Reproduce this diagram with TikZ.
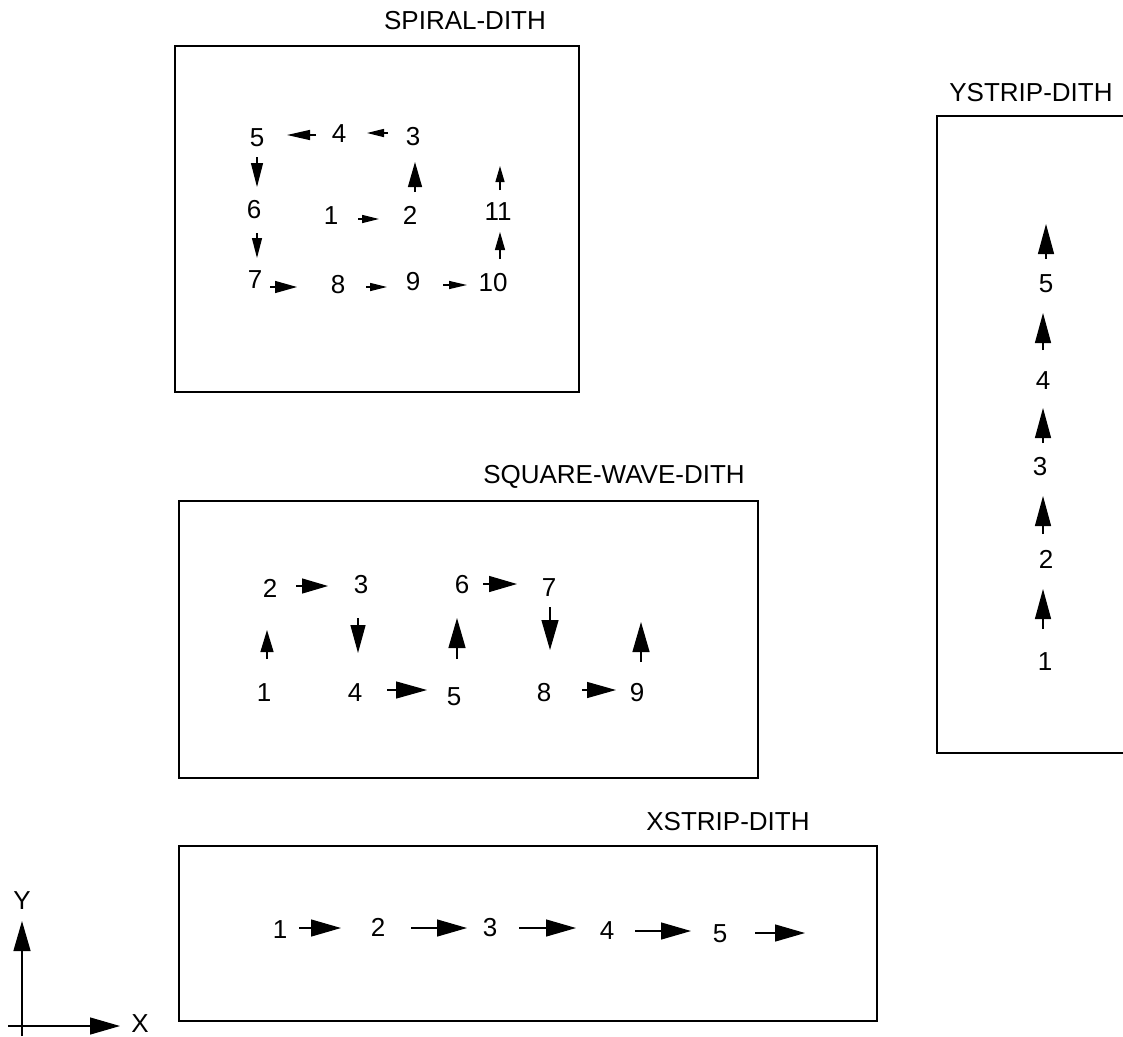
\documentclass[tikz,border=0pt]{standalone}
\usepackage{fontspec}
\setmainfont{Liberation Sans}
\usetikzlibrary{arrows.meta}
\tikzset{
  lbl/.style={inner sep=0pt, text height=18.6pt, text depth=0pt, font=\fontsize{26}{30}\selectfont},
  frame/.style={draw=black, line width=1.4pt},
  arr/.style={line width=1.3pt},
}
\newcommand\tip[2]{-{Triangle[length=#1pt,width=#2pt]}}
\begin{document}
\begin{tikzpicture}[x=1pt,y=-1pt]
\useasboundingbox (0,0) rectangle (1123,1036);

% ---------------- SPIRAL ----------------
\node[lbl] (spt) at (465,20) {SPIRAL-DITH};
\draw[frame] (175,46) rectangle (579,392);
\node[lbl] (sp5) at (257,137) {5};
\node[lbl] (sp4) at (339,133) {4};
\node[lbl] (sp3) at (413,136) {3};
\node[lbl] (sp6) at (254,209) {6};
\node[lbl] (sp1) at (331,215) {1};
\node[lbl] (sp2) at (410,215) {2};
\node[lbl] (sp11) at (498,211) {11};
\node[lbl] (sp7) at (255,279) {7};
\node[lbl] (sp8) at (338,284) {8};
\node[lbl] (sp9) at (413,281) {9};
\node[lbl] (sp10) at (493,282) {10};
\coordinate (sa45s) at (316,135); \coordinate (sa45e) at (287,135);
\coordinate (sa34s) at (388,133); \coordinate (sa34e) at (367,133);
\coordinate (sa56s) at (257,157); \coordinate (sa56e) at (257,187);
\coordinate (sa23s) at (415,192); \coordinate (sa23e) at (415,162);
\coordinate (sa11s) at (500,190); \coordinate (sa11e) at (500,166);
\coordinate (sa12s) at (358,219); \coordinate (sa12e) at (379,219);
\coordinate (sa67s) at (257,233); \coordinate (sa67e) at (257,258);
\coordinate (sa1011s) at (500,259); \coordinate (sa1011e) at (500,232);
\coordinate (sa78s) at (270,287); \coordinate (sa78e) at (297,287);
\coordinate (sa89s) at (366,287); \coordinate (sa89e) at (387,287);
\coordinate (sa910s) at (443,285); \coordinate (sa910e) at (467,285);
\draw[arr,\tip{23}{10}] (sa45s) -- (sa45e);
\draw[arr,\tip{17}{8}] (sa34s) -- (sa34e);
\draw[arr,\tip{24}{12}] (sa56s) -- (sa56e);
\draw[arr,\tip{25}{14}] (sa23s) -- (sa23e);
\draw[arr,\tip{16}{9}] (sa11s) -- (sa11e);
\draw[arr,\tip{17}{8}] (sa12s) -- (sa12e);
\draw[arr,\tip{20}{10}] (sa67s) -- (sa67e);
\draw[arr,\tip{18}{10}] (sa1011s) -- (sa1011e);
\draw[arr,\tip{22}{12}] (sa78s) -- (sa78e);
\draw[arr,\tip{17}{8}] (sa89s) -- (sa89e);
\draw[arr,\tip{18}{8}] (sa910s) -- (sa910e);

% ---------------- SQUARE WAVE ----------------
\node[lbl] (sqt) at (614,474) {SQUARE-WAVE-DITH};
\draw[frame] (179,501) rectangle (758,778);
\node[lbl] (sq2) at (270,588) {2};
\node[lbl] (sq3) at (361,584) {3};
\node[lbl] (sq6) at (462,584) {6};
\node[lbl] (sq7) at (549,587) {7};
\node[lbl] (sq1) at (264,692) {1};
\node[lbl] (sq4) at (355,692) {4};
\node[lbl] (sq5) at (454,696) {5};
\node[lbl] (sq8) at (544,692) {8};
\node[lbl] (sq9) at (637,692) {9};
\coordinate (qa23s) at (296,586); \coordinate (qa23e) at (328,586);
\coordinate (qa67s) at (483,584); \coordinate (qa67e) at (517,584);
\coordinate (qa45s) at (387,690); \coordinate (qa45e) at (427,690);
\coordinate (qa89s) at (582,690); \coordinate (qa89e) at (616,690);
\coordinate (qa12s) at (267,659); \coordinate (qa12e) at (267,630);
\coordinate (qa34s) at (358,618); \coordinate (qa34e) at (358,653);
\coordinate (qa56s) at (457,659); \coordinate (qa56e) at (457,618);
\coordinate (qa78s) at (550,607); \coordinate (qa78e) at (550,650);
\coordinate (qa9s) at (641,662); \coordinate (qa9e) at (641,622);
\draw[arr,\tip{26}{15}] (qa23s) -- (qa23e);
\draw[arr,\tip{28}{16}] (qa67s) -- (qa67e);
\draw[arr,\tip{31}{17}] (qa45s) -- (qa45e);
\draw[arr,\tip{29}{16}] (qa89s) -- (qa89e);
\draw[arr,\tip{22}{13}] (qa12s) -- (qa12e);
\draw[arr,\tip{28}{15}] (qa34s) -- (qa34e);
\draw[arr,\tip{30}{17}] (qa56s) -- (qa56e);
\draw[arr,\tip{30}{17}] (qa78s) -- (qa78e);
\draw[arr,\tip{30}{17}] (qa9s) -- (qa9e);

% ---------------- XSTRIP ----------------
\node[lbl] (xst) at (728,821) {XSTRIP-DITH};
\draw[frame] (179,846) rectangle (877,1021);
\node[lbl] (xs1) at (280,929) {1};
\node[lbl] (xs2) at (378,927) {2};
\node[lbl] (xs3) at (490,927) {3};
\node[lbl] (xs4) at (607,930) {4};
\node[lbl] (xs5) at (720,933) {5};
\coordinate (xa1s) at (299,928); \coordinate (xa1e) at (341,928);
\coordinate (xa2s) at (411,928); \coordinate (xa2e) at (467,928);
\coordinate (xa3s) at (519,928); \coordinate (xa3e) at (576,928);
\coordinate (xa4s) at (635,931); \coordinate (xa4e) at (691,931);
\coordinate (xa5s) at (755,933); \coordinate (xa5e) at (805,933);
\foreach \i in {1,...,5}{\draw[arr,\tip{30}{17}] (xa\i s) -- (xa\i e);}

% ---------------- YSTRIP ----------------
\node[lbl] (yst) at (1031,92) {YSTRIP-DITH};
\draw[frame] (1130,116) -- (937,116) -- (937,753) -- (1130,753);
\node[lbl] (ys5) at (1046,283) {5};
\node[lbl] (ys4) at (1043,380) {4};
\node[lbl] (ys3) at (1040,466) {3};
\node[lbl] (ys2) at (1046,559) {2};
\node[lbl] (ys1) at (1045,661) {1};
\coordinate (ya1s) at (1046,259); \coordinate (ya1e) at (1046,224);
\coordinate (ya2s) at (1043,350); \coordinate (ya2e) at (1043,313);
\coordinate (ya3s) at (1043,443); \coordinate (ya3e) at (1043,408);
\coordinate (ya4s) at (1043,534); \coordinate (ya4e) at (1043,496);
\coordinate (ya5s) at (1043,629); \coordinate (ya5e) at (1043,589);
\foreach \i in {1,...,5}{\draw[arr,\tip{30}{16}] (ya\i s) -- (ya\i e);}

% ---------------- AXES ----------------
\coordinate (ax0v) at (22,1036);
\coordinate (axY) at (22,921);
\coordinate (ax0h) at (8,1026);
\coordinate (axX) at (120,1026);
\draw[arr,\tip{30}{17}] (ax0v) -- (axY);
\draw[arr,\tip{30}{17}] (ax0h) -- (axX);
\node[lbl] (ylab) at (22,900) {Y};
\node[lbl] (xlab) at (140,1023) {X};
\end{tikzpicture}
\end{document}
